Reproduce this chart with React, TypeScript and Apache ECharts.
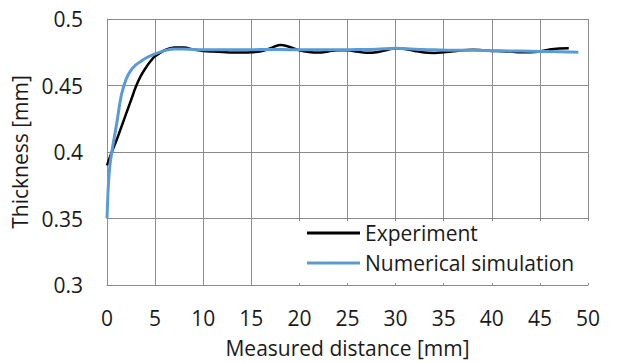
import React, { useEffect, useRef } from "react";
import * as echarts from "echarts";

const experimentX = [0, 0.5, 1, 1.5, 2, 2.5, 3, 3.5, 4, 4.5, 5, 6, 7, 8, 9, 10, 11, 12, 13, 14, 15, 16, 17, 18, 19, 20, 21, 22, 23, 24, 25, 26, 27, 28, 29, 30, 31, 32, 33, 34, 35, 36, 37, 38, 39, 40, 41, 42, 43, 44, 45, 46, 47, 48];
const experimentY = [0.39, 0.4, 0.409, 0.419, 0.429, 0.439, 0.449, 0.457, 0.463, 0.468, 0.472, 0.4765, 0.4785, 0.4785, 0.477, 0.476, 0.4755, 0.4752, 0.4748, 0.4748, 0.475, 0.4758, 0.478, 0.4805, 0.479, 0.4765, 0.4752, 0.4748, 0.4756, 0.4765, 0.4765, 0.4755, 0.4746, 0.475, 0.4765, 0.478, 0.4775, 0.476, 0.4748, 0.4745, 0.475, 0.4758, 0.4765, 0.4768, 0.4765, 0.476, 0.4758, 0.4755, 0.475, 0.475, 0.4755, 0.477, 0.4778, 0.478];

const simulationX = [0, 0.05, 0.15, 0.3, 0.5, 1, 1.5, 2, 2.5, 3, 3.5, 4, 5, 6, 7, 8, 10, 12, 14, 16, 18, 20, 22, 24, 26, 28, 30, 32, 34, 36, 38, 40, 42, 44, 46, 48, 49];
const simulationY = [0.35, 0.36, 0.376, 0.39, 0.4, 0.421, 0.443, 0.455, 0.4615, 0.4655, 0.468, 0.4705, 0.4738, 0.4762, 0.4775, 0.4775, 0.4768, 0.4768, 0.4768, 0.477, 0.477, 0.4768, 0.4768, 0.4768, 0.477, 0.4772, 0.478, 0.4772, 0.4768, 0.4765, 0.4765, 0.4762, 0.476, 0.4758, 0.4755, 0.4752, 0.475];

const seriesNames = ["Experiment", "Numerical simulation"];
const xTitle = "Measured distance [mm]";
const yTitle = "Thickness [mm]";

const FONT = "'Open Sans', sans-serif";
const GRID_COLOR = "#8a8a8a";
const TEXT_COLOR = "#1a1a1a";
const FS = 21;

export default function App() {
  const ref = useRef<HTMLDivElement>(null);
  useEffect(() => {
    if (!ref.current) return;
    const chart = echarts.init(ref.current, undefined, { renderer: "svg" });
    const expData = experimentX.map((x, i) => [x, experimentY[i]]);
    const simData = simulationX.map((x, i) => [x, simulationY[i]]);
    chart.setOption({
      animation: false,
      backgroundColor: "#ffffff",
      grid: { left: 107, right: 31, top: 19, bottom: 76, containLabel: false },
      xAxis: {
        type: "value",
        min: 0,
        max: 50,
        interval: 5,
        name: xTitle,
        nameLocation: "middle",
        nameGap: 52,
        nameTextStyle: { fontFamily: FONT, fontSize: FS, color: TEXT_COLOR },
        axisLine: { show: true, lineStyle: { color: GRID_COLOR, width: 1 } },
        axisTick: { show: false },
        axisLabel: { fontFamily: FONT, fontSize: FS, color: TEXT_COLOR, margin: 22 },
        splitLine: { show: true, lineStyle: { color: GRID_COLOR, width: 1 } },
      },
      yAxis: {
        type: "value",
        min: 0.3,
        max: 0.5,
        interval: 0.05,
        name: yTitle,
        nameLocation: "middle",
        nameGap: 73,
        nameTextStyle: { fontFamily: FONT, fontSize: FS, color: TEXT_COLOR },
        axisLine: { show: true, lineStyle: { color: GRID_COLOR, width: 1 } },
        axisTick: { show: false },
        axisLabel: {
          fontFamily: FONT,
          fontSize: FS,
          color: TEXT_COLOR,
          margin: 24,
          formatter: (v: number) => String(parseFloat(v.toFixed(2))),
        },
        splitLine: { show: true, lineStyle: { color: GRID_COLOR, width: 1 } },
      },
      legend: {
        orient: "vertical",
        left: 298,
        top: 221,
        backgroundColor: "#ffffff",
        padding: [1, 30, 9, 9],
        itemGap: 8,
        itemWidth: 53,
        itemHeight: 3,
        icon: "rect",
        textStyle: { fontFamily: FONT, fontSize: FS, color: TEXT_COLOR, lineHeight: 22 },
        data: seriesNames,
      },
      series: [
        {
          name: seriesNames[0],
          type: "line",
          data: expData,
          smooth: 0.4,
          showSymbol: false,
          symbol: "none",
          lineStyle: { color: "#000000", width: 2.5 },
          itemStyle: { color: "#000000" },
          z: 2,
        },
        {
          name: seriesNames[1],
          type: "line",
          data: simData,
          smooth: 0.4,
          showSymbol: false,
          symbol: "none",
          lineStyle: { color: "#5b9bd5", width: 3 },
          itemStyle: { color: "#5b9bd5" },
          z: 3,
        },
      ],
    });
    return () => chart.dispose();
  }, []);
  return <div ref={ref} style={{ width: 619, height: 363, position: "absolute", left: 0, top: 0 }} />;
}
